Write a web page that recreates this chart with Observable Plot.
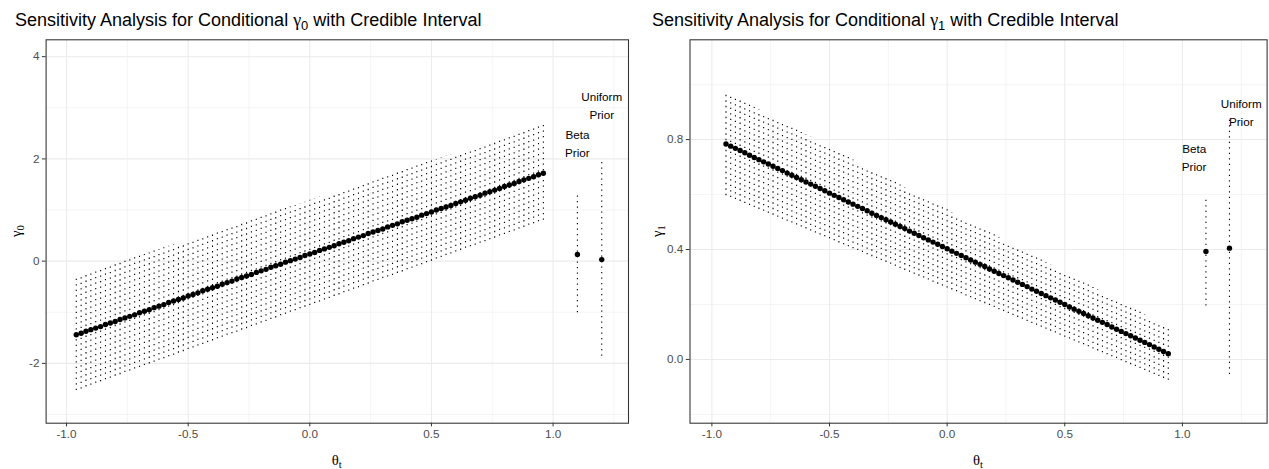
<!DOCTYPE html>
<html><head><meta charset="utf-8">
<script src="https://cdn.jsdelivr.net/npm/d3@7"></script>
<script src="https://cdn.jsdelivr.net/npm/@observablehq/plot@0.6"></script>
<style>
body{margin:0;background:#fff;font-family:"Liberation Sans",Arial,sans-serif;}
#wrap{position:relative;width:1269px;height:469px;overflow:hidden;background:#fff;}
.panel{position:absolute;top:0;}
.title{position:absolute;font-size:18px;line-height:20px;color:#000;white-space:nowrap;}
.g{font-family:"Liberation Serif","DejaVu Serif",serif;}
.sub{font-size:0.72em;position:relative;top:0.3em;}
.axt{position:absolute;font-size:14.7px;line-height:18px;color:#000;white-space:nowrap;}
.ytitle{transform:translate(-50%,-50%) rotate(-90deg);}
.xtitle{transform:translate(-50%,-50%);}
</style></head>
<body><div id="wrap"></div>
<script>
// ---- data ----
const thetaL = [-0.96,-0.94,-0.92,-0.90,-0.88,-0.86,-0.84,-0.82,-0.80,-0.78,-0.76,-0.74,-0.72,-0.70,-0.68,-0.66,-0.64,-0.62,-0.60,-0.58,-0.56,-0.54,-0.52,-0.50,-0.48,-0.46,-0.44,-0.42,-0.40,-0.38,-0.36,-0.34,-0.32,-0.30,-0.28,-0.26,-0.24,-0.22,-0.20,-0.18,-0.16,-0.14,-0.12,-0.10,-0.08,-0.06,-0.04,-0.02,0.00,0.02,0.04,0.06,0.08,0.10,0.12,0.14,0.16,0.18,0.20,0.22,0.24,0.26,0.28,0.30,0.32,0.34,0.36,0.38,0.40,0.42,0.44,0.46,0.48,0.50,0.52,0.54,0.56,0.58,0.60,0.62,0.64,0.66,0.68,0.70,0.72,0.74,0.76,0.78,0.80,0.82,0.84,0.86,0.88,0.90,0.92,0.94,0.96];
const meanL = [-1.44,-1.41,-1.37,-1.34,-1.31,-1.28,-1.24,-1.21,-1.18,-1.14,
-1.11,-1.08,-1.05,-1.01,-0.98,-0.95,-0.91,-0.88,-0.85,-0.81,
-0.78,-0.75,-0.72,-0.68,-0.65,-0.62,-0.58,-0.55,-0.52,-0.49,
-0.45,-0.42,-0.39,-0.35,-0.32,-0.29,-0.26,-0.22,-0.19,-0.16,
-0.12,-0.09,-0.06,-0.02,0.01,0.04,0.07,0.11,0.14,0.17,
0.21,0.24,0.27,0.30,0.34,0.37,0.40,0.44,0.47,0.50,
0.54,0.57,0.60,0.63,0.67,0.70,0.73,0.77,0.80,0.83,
0.86,0.90,0.93,0.96,1.00,1.03,1.06,1.09,1.13,1.16,
1.19,1.23,1.26,1.29,1.33,1.36,1.39,1.42,1.46,1.49,
1.52,1.56,1.59,1.62,1.65,1.69,1.72];
const upperL = [-0.30,-0.27,-0.24,-0.21,-0.18,-0.15,-0.11,-0.08,-0.05,-0.02,
0.01,0.04,0.07,0.10,0.13,0.16,0.20,0.23,0.26,0.29,
0.32,0.35,0.38,0.41,0.44,0.47,0.50,0.54,0.57,0.60,
0.63,0.66,0.69,0.72,0.75,0.78,0.81,0.84,0.88,0.91,
0.94,0.97,1.00,1.03,1.06,1.09,1.12,1.15,1.19,1.22,
1.25,1.28,1.31,1.34,1.37,1.40,1.43,1.46,1.49,1.53,
1.56,1.59,1.62,1.65,1.68,1.71,1.74,1.77,1.80,1.83,
1.87,1.90,1.93,1.96,1.99,2.02,2.05,2.08,2.11,2.14,
2.18,2.21,2.24,2.27,2.30,2.33,2.36,2.39,2.42,2.45,
2.48,2.52,2.55,2.58,2.61,2.64,2.67];
const lowerL = [-2.53,-2.50,-2.46,-2.43,-2.39,-2.36,-2.32,-2.29,-2.25,-2.22,
-2.18,-2.15,-2.11,-2.08,-2.04,-2.01,-1.98,-1.94,-1.91,-1.87,
-1.84,-1.80,-1.77,-1.73,-1.70,-1.66,-1.63,-1.59,-1.56,-1.52,
-1.49,-1.45,-1.42,-1.39,-1.35,-1.32,-1.28,-1.25,-1.21,-1.18,
-1.14,-1.11,-1.07,-1.04,-1.00,-0.97,-0.93,-0.90,-0.87,-0.83,
-0.80,-0.76,-0.73,-0.69,-0.66,-0.62,-0.59,-0.55,-0.52,-0.48,
-0.45,-0.41,-0.38,-0.34,-0.31,-0.28,-0.24,-0.21,-0.17,-0.14,
-0.10,-0.07,-0.03,0.00,0.04,0.07,0.11,0.14,0.18,0.21,
0.25,0.28,0.31,0.35,0.38,0.42,0.45,0.49,0.52,0.56,
0.59,0.63,0.66,0.70,0.73,0.77,0.80];

const thetaR = [-0.94,-0.92,-0.90,-0.88,-0.86,-0.84,-0.82,-0.80,-0.78,-0.76,-0.74,-0.72,-0.70,-0.68,-0.66,-0.64,-0.62,-0.60,-0.58,-0.56,-0.54,-0.52,-0.50,-0.48,-0.46,-0.44,-0.42,-0.40,-0.38,-0.36,-0.34,-0.32,-0.30,-0.28,-0.26,-0.24,-0.22,-0.20,-0.18,-0.16,-0.14,-0.12,-0.10,-0.08,-0.06,-0.04,-0.02,0.00,0.02,0.04,0.06,0.08,0.10,0.12,0.14,0.16,0.18,0.20,0.22,0.24,0.26,0.28,0.30,0.32,0.34,0.36,0.38,0.40,0.42,0.44,0.46,0.48,0.50,0.52,0.54,0.56,0.58,0.60,0.62,0.64,0.66,0.68,0.70,0.72,0.74,0.76,0.78,0.80,0.82,0.84,0.86,0.88,0.90,0.92,0.94];
const meanR = [0.784,0.776,0.768,0.760,0.752,0.743,0.735,0.727,0.719,0.711,
0.703,0.695,0.687,0.678,0.670,0.662,0.654,0.646,0.638,0.630,
0.622,0.614,0.605,0.597,0.589,0.581,0.573,0.565,0.557,0.549,
0.541,0.532,0.524,0.516,0.508,0.500,0.492,0.484,0.476,0.467,
0.459,0.451,0.443,0.435,0.427,0.419,0.411,0.403,0.394,0.386,
0.378,0.370,0.362,0.354,0.346,0.338,0.329,0.321,0.313,0.305,
0.297,0.289,0.281,0.273,0.265,0.256,0.248,0.240,0.232,0.224,
0.216,0.208,0.200,0.191,0.183,0.175,0.167,0.159,0.151,0.143,
0.135,0.127,0.118,0.110,0.102,0.094,0.086,0.078,0.070,0.062,
0.054,0.045,0.037,0.029,0.021];
const upperR = [0.972,0.963,0.954,0.945,0.936,0.927,0.917,0.908,0.899,0.890,
0.881,0.872,0.863,0.854,0.845,0.836,0.826,0.817,0.808,0.799,
0.790,0.781,0.772,0.763,0.754,0.745,0.735,0.726,0.717,0.708,
0.699,0.690,0.681,0.672,0.663,0.654,0.645,0.635,0.626,0.617,
0.608,0.599,0.590,0.581,0.572,0.563,0.554,0.545,0.535,0.526,
0.517,0.508,0.499,0.490,0.481,0.472,0.463,0.454,0.444,0.435,
0.426,0.417,0.408,0.399,0.390,0.381,0.372,0.363,0.353,0.344,
0.335,0.326,0.317,0.308,0.299,0.290,0.281,0.272,0.262,0.253,
0.244,0.235,0.226,0.217,0.208,0.199,0.190,0.181,0.172,0.162,
0.153,0.144,0.135,0.126,0.117];
const lowerR = [0.596,0.589,0.582,0.575,0.567,0.560,0.553,0.546,0.539,0.532,
0.525,0.517,0.510,0.503,0.496,0.489,0.482,0.475,0.467,0.460,
0.453,0.446,0.439,0.432,0.424,0.417,0.410,0.403,0.396,0.389,
0.381,0.374,0.367,0.360,0.353,0.346,0.339,0.331,0.324,0.317,
0.310,0.303,0.296,0.289,0.281,0.274,0.267,0.260,0.253,0.246,
0.239,0.231,0.224,0.217,0.210,0.203,0.196,0.189,0.181,0.174,
0.167,0.160,0.153,0.146,0.138,0.131,0.124,0.117,0.110,0.103,
0.096,0.088,0.081,0.074,0.067,0.060,0.053,0.046,0.038,0.031,
0.024,0.017,0.010,0.003,-0.005,-0.012,-0.019,-0.026,-0.033,-0.040,
-0.047,-0.055,-0.062,-0.069,-0.076];

const priorNames = ["Beta", "Uniform"];
const priorX = [1.1, 1.2];
const priorMeanL = [0.13, 0.03];
const priorLowerL = [-1.01, -1.86];
const priorUpperL = [1.32, 1.95];
const priorMeanR = [0.393, 0.405];
const priorLowerR = [0.194, -0.055];
const priorUpperR = [0.594, 0.872];
const labelText = ["Beta\nPrior", "Uniform\nPrior"];
const labelXL = [1.1, 1.2];
const labelYL = [2.33, 3.06];
const labelXR = [1.05, 1.25];
const labelYR = [0.741, 0.904];

const xTicks = [-1, -0.5, 0, 0.5, 1];
const xMinor = [-0.75, -0.25, 0.25, 0.75, 1.25];
const yTicksL = [-2, 0, 2, 4];
const yMinorL = [-3, -1, 1, 3];
const yTicksR = [0, 0.4, 0.8];
const yMinorR = [-0.2, 0.2, 0.6, 1.0];

// ---- build ----
function panel(cfg) {
  const rows = cfg.theta.map((t, i) => ({x: t, m: cfg.mean[i], lo: cfg.lower[i], hi: cfg.upper[i]}));
  const pri = priorNames.map((n, i) => ({name: n, x: priorX[i], m: cfg.pm[i], lo: cfg.pl[i], hi: cfg.pu[i]}));
  const labs = labelText.map((t, i) => ({t, x: cfg.lx[i], y: cfg.ly[i]}));
  const gridStyle = {stroke: "#ebebeb", strokeOpacity: 1};
  const dash = {strokeDasharray: "1.3,4.2", strokeWidth: 1.1, stroke: "#000"};
  return Plot.plot({
    width: cfg.width, height: 469,
    marginLeft: cfg.ml, marginRight: cfg.mr, marginTop: 39.3, marginBottom: 46.3,
    x: {domain: cfg.xd},
    y: {domain: cfg.yd},
    style: {fontFamily: "'Liberation Sans', Arial, sans-serif", fontSize: "11.7px", background: "white", overflow: "visible"},
    marks: [
      Plot.gridX(xMinor, {...gridStyle, strokeWidth: 0.55}),
      Plot.gridY(cfg.yMinor, {...gridStyle, strokeWidth: 0.55}),
      Plot.gridX(xTicks, {...gridStyle, strokeWidth: 1.07}),
      Plot.gridY(cfg.yTicks, {...gridStyle, strokeWidth: 1.07}),
      Plot.ruleX(rows, {x: "x", y1: "lo", y2: "hi", ...dash}),
      Plot.dot(rows, {x: "x", y: "m", r: 2.7, fill: "#000", stroke: "none"}),
      Plot.ruleX(pri, {x: "x", y1: "lo", y2: "hi", ...dash}),
      Plot.dot(pri, {x: "x", y: "m", r: 2.7, fill: "#000", stroke: "none"}),
      Plot.text(labs, {x: "x", y: "y", text: "t", lineHeight: 1.54, fontSize: 11.7, fill: "#000"}),
      Plot.axisX(xTicks, {tickSize: 3.7, tickPadding: 3, tickFormat: d => d.toFixed(1), label: null, stroke: "#333333", fill: "#4d4d4d"}),
      Plot.axisY(cfg.yTicks, {tickSize: 3.7, tickPadding: 3, tickFormat: cfg.yf, label: null, stroke: "#333333", fill: "#4d4d4d"}),
      Plot.frame({stroke: "#333333", strokeWidth: 1.07})
    ]
  });
}

const wrap = document.getElementById("wrap");
function place(node, left) {
  node.classList.add("panel");
  node.style.left = left + "px";
  wrap.appendChild(node);
}
place(panel({theta: thetaL, mean: meanL, lower: lowerL, upper: upperL, pm: priorMeanL, pl: priorLowerL, pu: priorUpperL,
  lx: labelXL, ly: labelYL, width: 635, ml: 45.6, mr: 7, xd: [-1.084, 1.31], yd: [-3.17, 4.33],
  yTicks: yTicksL, yMinor: yMinorL, yf: d => String(d)}), 0);
place(panel({theta: thetaR, mean: meanR, lower: lowerR, upper: upperR, pm: priorMeanR, pl: priorLowerR, pu: priorUpperR,
  lx: labelXR, ly: labelYR, width: 634, ml: 54.5, mr: 2.4, xd: [-1.093, 1.36], yd: [-0.232, 1.163],
  yTicks: yTicksR, yMinor: yMinorR, yf: d => d.toFixed(1)}), 635);

function addHTML(cls, html, left, top) {
  const d = document.createElement("div");
  d.className = cls;
  d.innerHTML = html;
  d.style.left = left + "px";
  d.style.top = top + "px";
  wrap.appendChild(d);
}
addHTML("title", 'Sensitivity Analysis for Conditional <span class="g">γ</span><span class="sub">0</span> with Credible Interval', 15, 10);
addHTML("title", 'Sensitivity Analysis for Conditional <span class="g">γ</span><span class="sub">1</span> with Credible Interval', 652, 10);
addHTML("axt xtitle g", 'θ<span class="sub">t</span>', 336.8, 461);
addHTML("axt xtitle g", 'θ<span class="sub">t</span>', 978, 461);
addHTML("axt ytitle g", 'γ<span class="sub">0</span>', 17, 231);
addHTML("axt ytitle g", 'γ<span class="sub">1</span>', 658, 231);
</script>
</body></html>
